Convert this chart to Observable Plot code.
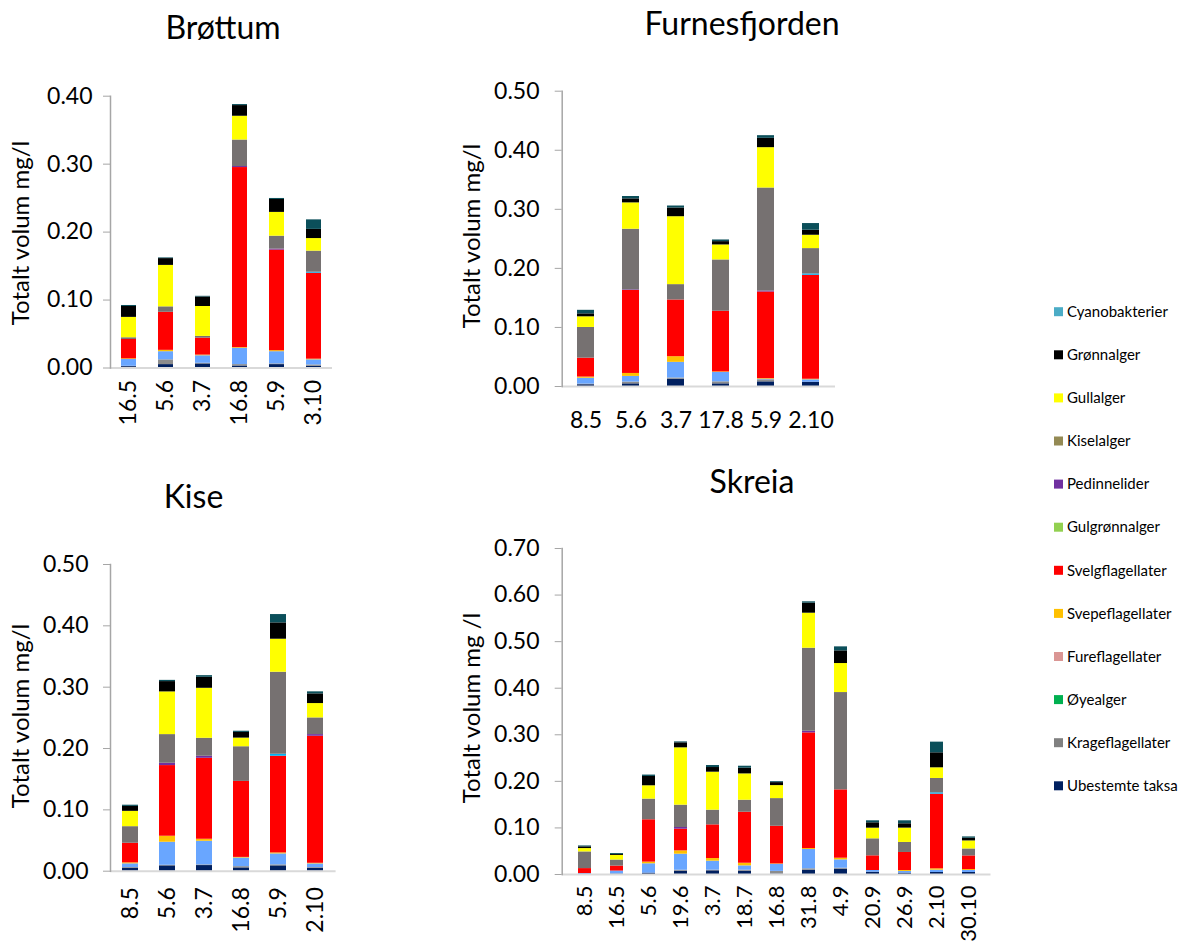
<!DOCTYPE html>
<html>
<head>
<meta charset="utf-8">
<script src="https://cdn.jsdelivr.net/npm/d3@7"></script>
<script src="https://cdn.jsdelivr.net/npm/@observablehq/plot@0.6"></script>
<style>
  html, body { margin: 0; padding: 0; background: #fff; }
  #root { position: relative; width: 1186px; height: 942px; overflow: hidden; font-family: Lato, sans-serif; }
  .panel { position: absolute; }
  #overlay { position: absolute; left: 0; top: 0; pointer-events: none; }
</style>
</head>
<body>
<div id="root"></div>
<script>
// ---- groups (stack order bottom -> top) ----
const groups = ["Ubestemte taksa", "Krageflagellater", "Fureflagellater", "Svepeflagellater", "Svelgflagellater",
  "Gulgrønnalger", "Pedinnelider", "Kiselalger", "Gullalger", "Grønnalger", "Cyanobakterier"];
const barColors = ["#002060", "#8c8c8c", "#69a6ff", "#ffc000", "#ff0000",
  "#00b0f0", "#7030a0", "#767171", "#ffff00", "#000000", "#0b4f5a"];

// ---- legend ----
const legendNames = ["Cyanobakterier", "Grønnalger", "Gullalger", "Kiselalger", "Pedinnelider", "Gulgrønnalger",
  "Svelgflagellater", "Svepeflagellater", "Fureflagellater", "Øyealger", "Krageflagellater", "Ubestemte taksa"];
const legendColors = ["#4bacc6", "#000000", "#ffff00", "#948a54", "#7030a0", "#92d050",
  "#ff0000", "#ffc000", "#da9694", "#00b050", "#808080", "#002060"];

// ---- Brøttum ----
const brottumDates = ["16.5", "5.6", "3.7", "16.8", "5.9", "3.10"];
const brottumUbestemte = [0.002, 0.005, 0.006, 0.003, 0.005, 0.0025];
const brottumKrage = [0.0005, 0.007, 0.001, 0.002, 0.001, 0.002];
const brottumFure = [0.010, 0.012, 0.011, 0.024, 0.018, 0.0075];
const brottumSvepe = [0.001, 0.002, 0.001, 0.001, 0.0015, 0.001];
const brottumSvelg = [0.0285, 0.056, 0.025, 0.265, 0.148, 0.1265];
const brottumGulgronn = [0, 0, 0, 0, 0, 0.0015];
const brottumPedin = [0, 0, 0, 0.0015, 0.0015, 0];
const brottumKisel = [0.0025, 0.008, 0.0025, 0.039, 0.019, 0.031];
const brottumGull = [0.030, 0.061, 0.044, 0.035, 0.035, 0.0185];
const brottumGronn = [0.016, 0.010, 0.014, 0.0157, 0.019, 0.0135];
const brottumCyano = [0.0015, 0.001, 0.001, 0.0015, 0.0015, 0.014];

// ---- Furnesfjorden ----
const furnesDates = ["8.5", "5.6", "3.7", "17.8", "5.9", "2.10"];
const furnesUbestemte = [0.003, 0.0045, 0.0124, 0.0045, 0.0079, 0.0073];
const furnesKrage = [0.001, 0.003, 0.002, 0.0034, 0.0034, 0];
const furnesFure = [0.010, 0.0096, 0.0265, 0.0158, 0.001, 0.004];
const furnesSvepe = [0.002, 0.005, 0.0096, 0.001, 0.001, 0.001];
const furnesSvelg = [0.032, 0.1405, 0.096, 0.1027, 0.1467, 0.176];
const furnesGulgronn = [0, 0, 0, 0, 0, 0.0023];
const furnesPedin = [0, 0.001, 0, 0, 0.0017, 0];
const furnesKisel = [0.052, 0.1027, 0.026, 0.0869, 0.1744, 0.0429];
const furnesGull = [0.018, 0.0446, 0.115, 0.0254, 0.0683, 0.0226];
const furnesGronn = [0.005, 0.0068, 0.0147, 0.0056, 0.0158, 0.0085];
const furnesCyano = [0.006, 0.004, 0.0034, 0.0028, 0.0045, 0.0113];

// ---- Kise ----
const kiseDates = ["8.5", "5.6", "3.7", "16.8", "5.9", "2.10"];
const kiseUbestemte = [0.005, 0.0087, 0.0092, 0.0054, 0.0087, 0.0049];
const kiseKrage = [0.001, 0.001, 0.001, 0.002, 0.0016, 0.001];
const kiseFure = [0.006, 0.0375, 0.0386, 0.0141, 0.0179, 0.006];
const kiseSvepe = [0.0016, 0.0098, 0.0033, 0.001, 0.0016, 0.001];
const kiseSvelg = [0.032, 0.1152, 0.132, 0.1239, 0.1576, 0.2071];
const kiseGulgronn = [0, 0, 0, 0, 0.0033, 0];
const kisePedin = [0, 0.0038, 0.0033, 0, 0, 0.0027];
const kiseKisel = [0.027, 0.0467, 0.0293, 0.0565, 0.1337, 0.0272];
const kiseGull = [0.025, 0.0696, 0.0815, 0.0141, 0.0538, 0.0234];
const kiseGronn = [0.008, 0.0168, 0.0179, 0.0092, 0.0266, 0.0158];
const kiseCyano = [0.002, 0.002, 0.0027, 0.002, 0.0136, 0.0033];

// ---- Skreia ----
const skreiaDates = ["8.5", "16.5", "5.6", "19.6", "3.7", "18.7", "16.8", "31.8", "4.9", "20.9", "26.9", "2.10", "30.10"];
const skreiaUbestemte = [0, 0.001, 0.003, 0.0072, 0.0079, 0.0072, 0.001, 0.0093, 0.0115, 0.005, 0.003, 0.0043, 0.0043];
const skreiaKrage = [0, 0, 0, 0.002, 0.0014, 0.002, 0.0057, 0.0029, 0.002, 0, 0, 0, 0];
const skreiaFure = [0.002, 0.0064, 0.02, 0.0344, 0.0193, 0.0093, 0.015, 0.0415, 0.0179, 0.0036, 0.0036, 0.005, 0.0043];
const skreiaSvepe = [0, 0, 0.0036, 0.0072, 0.0057, 0.0057, 0.001, 0.002, 0.0036, 0, 0.002, 0.0029, 0.002];
const skreiaSvelg = [0.0107, 0.0107, 0.0909, 0.0465, 0.0723, 0.1095, 0.0809, 0.2484, 0.1467, 0.0315, 0.0387, 0.1603, 0.0293];
const skreiaGulgronn = [0, 0, 0, 0, 0, 0, 0, 0, 0, 0, 0, 0.0029, 0];
const skreiaPedin = [0, 0, 0, 0.0036, 0, 0, 0, 0.0036, 0, 0, 0, 0, 0];
const skreiaKisel = [0.0358, 0.0129, 0.0444, 0.048, 0.0315, 0.0258, 0.0594, 0.1782, 0.209, 0.0365, 0.0215, 0.0308, 0.015];
const skreiaGull = [0.0072, 0.01, 0.0286, 0.1231, 0.0816, 0.0565, 0.0279, 0.0752, 0.0623, 0.0229, 0.0308, 0.0229, 0.0172];
const skreiaGronn = [0.0036, 0.002, 0.02, 0.0107, 0.01, 0.0122, 0.0064, 0.0215, 0.0272, 0.0115, 0.0093, 0.0322, 0.0057];
const skreiaCyano = [0.002, 0.002, 0.003, 0.002, 0.0043, 0.0043, 0.002, 0.0029, 0.0086, 0.0043, 0.0064, 0.0229, 0.0029];

const panels = [
  {title: "Brøttum", ylabel: "Totalt volum mg/l", dates: brottumDates,
   series: [brottumUbestemte, brottumKrage, brottumFure, brottumSvepe, brottumSvelg, brottumGulgronn, brottumPedin, brottumKisel, brottumGull, brottumGronn, brottumCyano],
   ymax: 0.4, left: 0, top: 60, w: 345, h: 390, ml: 110, mr: 13, mt: 35.7, mb: 82.5, pad: 0.6, rot: -90, xpad: 12, xfs: 23, ytp: 11,
   tx: 223, ty: 39, lx: 28.5, ly: 233},
  {title: "Furnesfjorden", ylabel: "Totalt volum mg/l", dates: furnesDates,
   series: [furnesUbestemte, furnesKrage, furnesFure, furnesSvepe, furnesSvelg, furnesGulgronn, furnesPedin, furnesKisel, furnesGull, furnesGronn, furnesCyano],
   ymax: 0.5, left: 440, top: 60, w: 410, h: 390, ml: 121.7, mr: 15, mt: 30.7, mb: 64, pad: 0.62, rot: 0, xpad: 25, xfs: 23, ytp: 15.7,
   tx: 742, ty: 35, lx: 480, ly: 236},
  {title: "Kise", ylabel: "Totalt volum mg/l", dates: kiseDates,
   series: [kiseUbestemte, kiseKrage, kiseFure, kiseSvepe, kiseSvelg, kiseGulgronn, kisePedin, kiseKisel, kiseGull, kiseGronn, kiseCyano],
   ymax: 0.5, left: 0, top: 530, w: 350, h: 412, ml: 110, mr: 14.4, mt: 34, mb: 71.3, pad: 0.57, rot: -90, xpad: 16, xfs: 23, ytp: 15,
   tx: 193.5, ty: 508, lx: 28.5, ly: 716},
  {title: "Skreia", ylabel: "Totalt volum mg /l", dates: skreiaDates,
   series: [skreiaUbestemte, skreiaKrage, skreiaFure, skreiaSvepe, skreiaSvelg, skreiaGulgronn, skreiaPedin, skreiaKisel, skreiaGull, skreiaGronn, skreiaCyano],
   ymax: 0.7, left: 440, top: 520, w: 560, h: 422, ml: 121.7, mr: 9.5, mt: 28, mb: 68, pad: 0.59, rot: -90, xpad: 11, xfs: 22, ytp: 15.7,
   tx: 752, ty: 493, lx: 480, ly: 708}
];

const root = document.getElementById("root");

for (const p of panels) {
  const data = [];
  p.dates.forEach((d, i) => groups.forEach((g, k) => data.push({date: d, group: g, value: p.series[k][i]})));
  const ticks = d3.range(0, Math.round(p.ymax * 10) + 1).map(i => i / 10);
  const chart = Plot.plot({
    width: p.w, height: p.h,
    marginLeft: p.ml, marginRight: p.mr, marginTop: p.mt, marginBottom: p.mb,
    style: {fontFamily: "Lato, sans-serif", fontSize: "23px", color: "#000", background: "transparent", overflow: "visible"},
    x: {domain: p.dates, paddingInner: p.pad, paddingOuter: p.pad / 2, label: null},
    y: {domain: [0, p.ymax], label: null},
    color: {domain: groups, range: barColors},
    marks: [
      Plot.barY(data, {x: "date", y: "value", fill: "group"}),
      Plot.ruleY([0], {stroke: "#d9d9d9", strokeWidth: 2}),
      Plot.frame({anchor: "left", stroke: "#a6a6a6", strokeWidth: 1.5}),
      Plot.axisY({ticks, tickFormat: d => d.toFixed(2), tickSize: 7, tickPadding: p.ytp, stroke: "#a6a6a6", fill: "#000", label: null}),
      Plot.axisX({tickSize: 0, tickRotate: p.rot, tickPadding: p.xpad, fontSize: p.xfs, fill: "#000", label: null})
    ]
  });
  const wrap = document.createElement("div");
  wrap.className = "panel";
  wrap.style.left = p.left + "px";
  wrap.style.top = p.top + "px";
  wrap.appendChild(chart);
  root.appendChild(wrap);
}

// ---- overlay: titles, y-labels, legend ----
const svg = d3.select(root).append("svg").attr("id", "overlay")
  .attr("width", 1186).attr("height", 942).style("font-family", "Lato, sans-serif");

for (const p of panels) {
  svg.append("text").attr("x", p.tx).attr("y", p.ty).attr("text-anchor", "middle")
    .attr("font-size", 32).attr("fill", "#000").text(p.title);
  svg.append("text").attr("transform", `translate(${p.lx},${p.ly}) rotate(-90)`)
    .attr("text-anchor", "middle").attr("font-size", 24).attr("fill", "#000").text(p.ylabel);
}

const lg = svg.append("g");
legendNames.forEach((name, i) => {
  const cy = 311.7 + i * 43.1;
  lg.append("rect").attr("x", 1054).attr("y", cy - 4.5).attr("width", 9).attr("height", 9).attr("fill", legendColors[i]);
  lg.append("text").attr("x", 1067).attr("y", cy).attr("dy", "0.35em").attr("font-size", 15).attr("fill", "#000").text(name);
});
</script>
</body>
</html>
